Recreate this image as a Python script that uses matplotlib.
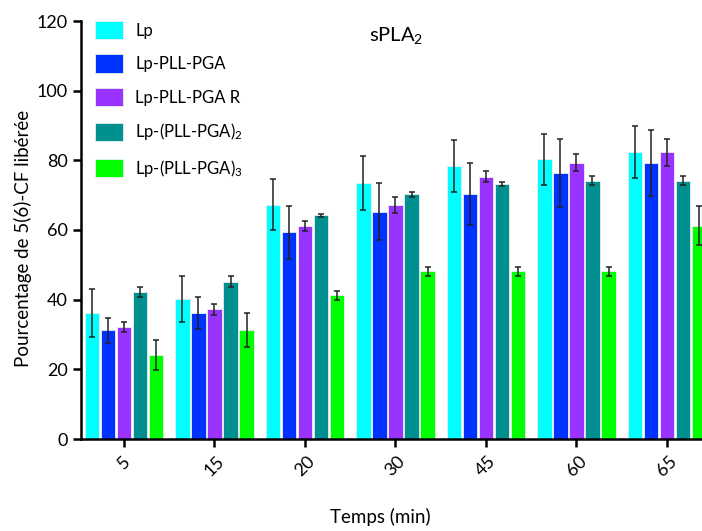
import matplotlib
matplotlib.use("Agg")
import matplotlib.pyplot as plt
import numpy as np

## data
times = ["5", "15", "20", "30", "45", "60", "65"]
series = ["Lp", "Lp-PLL-PGA", "Lp-PLL-PGA R", "Lp-(PLL-PGA)$_2$", "Lp-(PLL-PGA)$_3$"]
colors = ["#00ffff", "#0033ff", "#9933ff", "#009090", "#00ff00"]

lp         = [36.2, 40.2, 67.3, 73.4, 78.3, 80.3, 82.3]
lp_err     = [6.8, 6.7, 7.2, 7.8, 7.5, 7.4, 7.5]
pll        = [31.2, 36.2, 59.3, 65.3, 70.3, 76.3, 79.3]
pll_err    = [3.5, 4.5, 7.7, 8.1, 9.0, 9.7, 9.5]
pll_r      = [32.2, 37.2, 61.2, 67.3, 75.3, 79.3, 82.3]
pll_r_err  = [1.5, 1.6, 1.5, 2.3, 1.6, 2.5, 3.9]
pll2       = [42.2, 45.2, 64.2, 70.2, 73.3, 74.2, 74.2]
pll2_err   = [1.5, 1.5, 0.4, 0.7, 0.6, 1.2, 1.4]
pll3       = [24.2, 31.2, 41.2, 48.1, 48.1, 48.1, 61.2]
pll3_err   = [4.3, 4.9, 1.4, 1.2, 1.2, 1.2, 5.6]

values = [lp, pll, pll_r, pll2, pll3]
errors = [lp_err, pll_err, pll_r_err, pll2_err, pll3_err]

plt.rcParams['font.family'] = ['Lato', 'DejaVu Sans']
plt.rcParams['mathtext.default'] = 'regular'

fig = plt.figure(figsize=(7.02, 5.31), dpi=100)
ax = fig.add_axes([81/702, 92/531, 1 - 81/702, 418/531])

x = np.arange(len(times))
step = 0.177
width = 0.158
for i in range(len(series)):
    ax.bar(x + (i - 2) * step, values[i], width, color=colors[i],
           edgecolor='#e8f0f0', linewidth=0.6, label=series[i],
           yerr=errors[i], capsize=2.5,
           error_kw=dict(ecolor='#222222', elinewidth=1.1, capthick=1.1))

ax.set_xlim(-0.475, 6.387)
ax.set_ylim(0, 120)
ax.set_yticks(range(0, 121, 20))
ax.set_xticks(x)
ax.set_xticklabels(times, rotation=45, ha='center', va='top')
ax.tick_params(axis='both', labelsize=13, width=1.8, length=6, direction='out')
ax.tick_params(axis='x', pad=4)
for s in ['top', 'right']:
    ax.spines[s].set_visible(False)
for s in ['left', 'bottom']:
    ax.spines[s].set_linewidth(1.8)

ax.set_ylabel("Pourcentage de 5(6)-CF libérée", fontsize=13.5)
ax.yaxis.set_label_coords(-0.079, 0.48)
fig.text(380/702, 1 - 517/531, "Temps (min)", fontsize=13.5, ha='center', va='center')
fig.text(396/702, 1 - 35/531, "sPLA$_2$", fontsize=14.5, ha='center', va='center')

ax.legend(loc='upper left', bbox_to_anchor=(-0.001, 1.036), frameon=False,
          fontsize=12, handlelength=1.65, handleheight=1.3,
          labelspacing=0.92, handletextpad=0.75)

fig.savefig("out.png", dpi=100)
